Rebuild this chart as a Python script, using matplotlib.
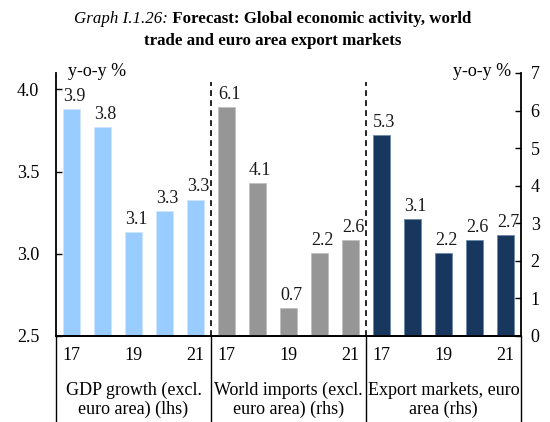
import matplotlib
matplotlib.use("Agg")
import matplotlib.pyplot as plt
import numpy as np

plt.rcParams['font.family'] = ['Liberation Serif', 'DejaVu Serif']

# ---- data ----
years = ['17', '18', '19', '20', '21']
shown_years = ['17', '19', '21']
groups = ['GDP growth (excl.\neuro area) (lhs)',
          'World imports (excl.\neuro area) (rhs)',
          'Export markets, euro\narea (rhs)']
gdp = [3.88, 3.77, 3.13, 3.26, 3.33]
gdp_labels = ['3.9', '3.8', '3.1', '3.3', '3.3']
imports = [6.10, 4.06, 0.74, 2.20, 2.56]
imports_labels = ['6.1', '4.1', '0.7', '2.2', '2.6']
exports = [5.34, 3.12, 2.20, 2.56, 2.69]
exports_labels = ['5.3', '3.1', '2.2', '2.6', '2.7']

c_gdp = '#99CCFF'
c_imp = '#969696'
c_exp = '#17375E'

W, H = 550, 422
fig = plt.figure(figsize=(W/100, H/100), dpi=100)
ax = fig.add_axes([56/W, 1-336/H, (521-56)/W, (336-73)/H])
ax2 = ax.twinx()

fs = 13
n = len(years)
x_gdp = np.arange(n)
x_imp = np.arange(n) + n
x_exp = np.arange(n) + 2*n

ax.bar(x_gdp, gdp, width=0.58, color=c_gdp, edgecolor='#cfe6ff', linewidth=0.6)
ax2.bar(x_imp, imports, width=0.52, color=c_imp, edgecolor='#c0c0c0', linewidth=0.6)
ax2.bar(x_exp, exports, width=0.52, color=c_exp, edgecolor='#6a8aaa', linewidth=0.6)

ax.set_ylim(2.5, 4.1)
ax2.set_ylim(0, 7)
ax.set_xlim(-0.5, 3*n-0.5)

for xs, vals, labs, a in [(x_gdp, gdp, gdp_labels, ax), (x_imp, imports, imports_labels, ax2),
                          (x_exp, exports, exports_labels, ax2)]:
    for xi, v, lab in zip(xs, vals, labs):
        a.annotate(lab, (xi, v), xytext=(2, 3), textcoords='offset points',
                   ha='center', va='bottom', fontsize=fs, color='#1a1a1a')

ax.set_yticks([2.5, 3.0, 3.5, 4.0])
ax.set_yticklabels(['2.5', '3.0', '3.5', '4.0'])
ax2.set_yticks(range(0, 8))
ax.tick_params(axis='y', direction='in', length=4, labelsize=fs, pad=12, width=1)
ax2.tick_params(axis='y', direction='in', length=4, labelsize=fs, pad=7, width=1)
ax.tick_params(axis='x', length=0, labelbottom=False)
ax2.tick_params(axis='x', length=0, labelbottom=False)

for a in (ax, ax2):
    a.spines['top'].set_visible(False)
    for s in ('left', 'right', 'bottom'):
        a.spines[s].set_linewidth(1.3)
ax.spines['right'].set_visible(False)
ax2.spines['left'].set_visible(False)

tr = ax.get_xaxis_transform()
# dashed separators inside plot
for xs in (n-0.5, 2*n-0.5):
    ax.plot([xs, xs], [0, 0.965], transform=tr, color='black', linestyle=(0, (3.5, 2.5)),
            linewidth=1.2, clip_on=False, zorder=5)
# category separators below
for xs in (-0.5, n-0.5, 2*n-0.5, 3*n-0.5):
    ax.plot([xs, xs], [0, -0.33], transform=tr, color='black', linewidth=1.0, clip_on=False)

# year labels
for g in range(3):
    for k, y in zip([0, 2, 4], shown_years):
        ax.text(g*n + k, -0.075, y, transform=tr, ha='center', va='center', fontsize=fs)
    ax.text(g*n + 2, -0.243, groups[g], transform=tr, ha='center', va='center',
            fontsize=fs, linespacing=1.18)

fig.text(97/W, 1-71/H, 'y-o-y %', ha='center', va='center', fontsize=fs)
fig.text(482/W, 1-71/H, 'y-o-y %', ha='center', va='center', fontsize=fs)

# title
tfs = 12.2
t1 = fig.text(0, 1-19/H, 'Graph I.1.26:', fontstyle='italic', fontsize=tfs, ha='left', va='center')
t2 = fig.text(0, 1-19/H, ' Forecast: Global economic activity, world', fontweight='bold',
              fontsize=tfs, ha='left', va='center')
fig.text(273/W, 1-41/H, 'trade and euro area export markets', fontweight='bold',
         fontsize=tfs, ha='center', va='center')
fig.canvas.draw()
r = fig.canvas.get_renderer()
w1 = t1.get_window_extent(r).width
w2 = t2.get_window_extent(r).width
start = 273 - (w1 + w2) / 2
t1.set_x(start / W)
t2.set_x((start + w1) / W)

fig.savefig('out.png', dpi=100)
